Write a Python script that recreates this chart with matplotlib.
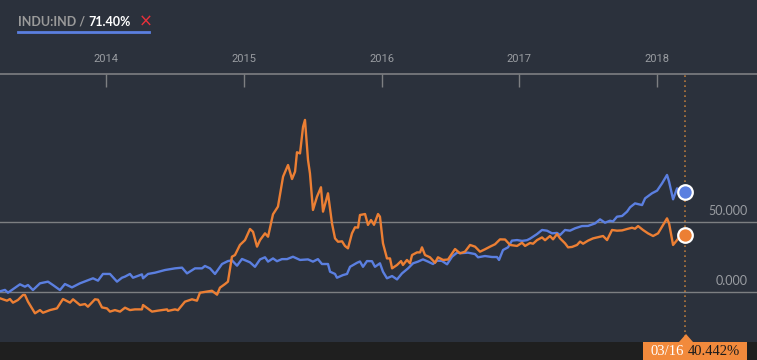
import matplotlib
matplotlib.use("Agg")
import matplotlib.pyplot as plt
from matplotlib.patches import Rectangle, Polygon
import numpy as np

# ---------------- data (decimal years, percent change) ----------------
blue_t = [2013.231, 2013.267, 2013.289, 2013.376, 2013.412, 2013.434, 2013.470, 2013.521,
          2013.579, 2013.615, 2013.666, 2013.702, 2013.753, 2013.811, 2013.862, 2013.906,
          2013.942, 2013.978, 2014.029, 2014.080, 2014.116, 2014.138, 2014.174, 2014.196,
          2014.261, 2014.269, 2014.305, 2014.356, 2014.428, 2014.501, 2014.552, 2014.588,
          2014.646, 2014.697, 2014.718, 2014.755, 2014.791, 2014.842, 2014.885, 2014.914,
          2014.951, 2014.987, 2015.045, 2015.081, 2015.118, 2015.154, 2015.176, 2015.212,
          2015.241, 2015.277, 2015.314, 2015.357, 2015.408, 2015.466, 2015.502, 2015.538,
          2015.567, 2015.611, 2015.626, 2015.662, 2015.676, 2015.720, 2015.749, 2015.771,
          2015.822, 2015.843, 2015.865, 2015.894, 2015.930, 2015.952, 2015.988, 2016.010,
          2016.039, 2016.076, 2016.112, 2016.148, 2016.192, 2016.228, 2016.264, 2016.300,
          2016.337, 2016.373, 2016.402, 2016.438, 2016.475, 2016.511, 2016.547, 2016.583,
          2016.627, 2016.678, 2016.700, 2016.750, 2016.801, 2016.837, 2016.852, 2016.881,
          2016.917, 2016.946, 2016.983, 2017.019, 2017.055, 2017.077, 2017.128, 2017.164,
          2017.200, 2017.237, 2017.273, 2017.295, 2017.331, 2017.367, 2017.404, 2017.454,
          2017.498, 2017.549, 2017.585, 2017.621, 2017.657, 2017.679, 2017.708, 2017.745,
          2017.781, 2017.803, 2017.839, 2017.890, 2017.912, 2017.962, 2017.999, 2018.035,
          2018.071, 2018.086, 2018.115, 2018.144, 2018.158, 2018.204]
blue_v = [0.5, 1.5, -0.5, 5.5, 3.8, 5.0, 1.4, 6.2,
          7.4, 5.0, 1.4, 5.7, 3.3, 6.2, 8.1, 9.8,
          8.1, 12.9, 12.9, 7.4, 10.2, 11.0, 12.9, 10.2,
          12.6, 9.8, 12.9, 13.8, 15.7, 16.9, 17.4, 13.3,
          16.9, 16.9, 18.6, 16.9, 12.9, 20.0, 22.1, 22.6,
          18.8, 23.6, 21.2, 18.0, 23.3, 24.8, 21.7, 24.0,
          22.0, 23.5, 23.5, 25.2, 22.9, 23.3, 21.7, 23.5,
          20.0, 20.0, 14.5, 12.9, 10.2, 12.1, 12.9, 18.0,
          20.9, 21.8, 18.0, 22.1, 22.0, 18.0, 20.5, 14.5,
          9.8, 11.4, 9.0, 13.3, 16.9, 20.5, 21.7, 23.3,
          21.7, 20.0, 22.4, 22.2, 19.8, 25.2, 28.1, 27.8,
          28.1, 27.1, 24.8, 25.7, 25.0, 25.0, 22.9, 30.0,
          31.9, 36.7, 37.1, 36.5, 37.0, 38.1, 41.4, 44.3,
          43.8, 41.9, 42.2, 40.7, 44.3, 43.8, 45.5, 47.1,
          47.2, 49.0, 51.9, 49.5, 50.9, 50.4, 53.8, 54.3,
          57.4, 60.5, 63.3, 62.1, 66.9, 70.5, 72.4, 77.6,
          83.6, 78.8, 66.2, 74.0, 72.9, 71.40]

orange_t = [2013.231, 2013.282, 2013.303, 2013.325, 2013.361, 2013.398, 2013.412, 2013.434,
            2013.485, 2013.521, 2013.543, 2013.594, 2013.644, 2013.688, 2013.739, 2013.761,
            2013.811, 2013.848, 2013.869, 2013.920, 2013.942, 2013.971, 2014.007, 2014.029,
            2014.065, 2014.102, 2014.138, 2014.174, 2014.210, 2014.261, 2014.269, 2014.334,
            2014.377, 2014.443, 2014.450, 2014.501, 2014.522, 2014.573, 2014.624, 2014.660,
            2014.682, 2014.769, 2014.806, 2014.827, 2014.864, 2014.885, 2014.914, 2014.936,
            2014.972, 2015.009, 2015.045, 2015.067, 2015.096, 2015.118, 2015.154, 2015.176,
            2015.212, 2015.248, 2015.285, 2015.321, 2015.350, 2015.372, 2015.386, 2015.408,
            2015.430, 2015.444, 2015.466, 2015.480, 2015.502, 2015.531, 2015.560, 2015.575,
            2015.611, 2015.640, 2015.662, 2015.684, 2015.713, 2015.734, 2015.756, 2015.785,
            2015.807, 2015.829, 2015.843, 2015.880, 2015.901, 2015.923, 2015.945, 2015.974,
            2015.988, 2016.010, 2016.039, 2016.061, 2016.076, 2016.112, 2016.141, 2016.155,
            2016.184, 2016.206, 2016.221, 2016.257, 2016.279, 2016.293, 2016.315, 2016.351,
            2016.388, 2016.409, 2016.446, 2016.482, 2016.533, 2016.569, 2016.605, 2016.642,
            2016.678, 2016.714, 2016.750, 2016.787, 2016.823, 2016.859, 2016.896, 2016.932,
            2016.983, 2017.019, 2017.041, 2017.077, 2017.099, 2017.128, 2017.164, 2017.186,
            2017.222, 2017.244, 2017.273, 2017.295, 2017.331, 2017.353, 2017.382, 2017.418,
            2017.440, 2017.462, 2017.498, 2017.534, 2017.585, 2017.607, 2017.636, 2017.672,
            2017.708, 2017.745, 2017.781, 2017.817, 2017.839, 2017.861, 2017.897, 2017.933,
            2017.970, 2018.006, 2018.035, 2018.071, 2018.086, 2018.115, 2018.144, 2018.166,
            2018.204]
orange_v = [-4.5, -6.2, -5.0, -7.6, -5.7, -2.1, -2.1, -6.9,
            -15.2, -12.9, -14.8, -12.9, -11.7, -5.0, -7.6, -5.2,
            -9.3, -8.6, -10.5, -5.2, -5.5, -11.0, -11.7, -14.0,
            -12.9, -14.0, -11.2, -12.9, -12.4, -12.4, -9.3, -14.0,
            -13.3, -12.4, -13.5, -12.4, -13.0, -6.9, -5.2, -6.2,
            -0.5, 0.9, -1.9, 3.1, 5.7, 7.4, 25.2, 26.4,
            33.6, 37.1, 45.0, 43.0, 32.4, 37.1, 41.9, 39.5,
            55.5, 61.0, 82.4, 90.7, 80.7, 86.0, 99.8, 99.0,
            118.0, 122.9, 94.3, 84.8, 58.6, 68.0, 74.8, 57.4,
            70.5, 49.0, 38.3, 35.9, 36.2, 32.9, 31.2, 41.9,
            46.2, 46.0, 55.0, 55.7, 47.9, 51.4, 48.0, 55.7,
            53.8, 34.8, 24.0, 24.0, 16.9, 19.3, 22.1, 19.3,
            22.9, 20.5, 26.4, 28.3, 28.3, 31.9, 26.4, 24.8,
            20.9, 24.8, 22.9, 23.2, 30.7, 27.6, 28.8, 33.6,
            32.4, 28.8, 30.5, 32.4, 34.1, 37.6, 37.5, 33.6,
            32.9, 35.2, 32.9, 35.0, 34.5, 37.1, 39.0, 37.0,
            40.0, 37.6, 41.4, 38.3, 34.8, 31.9, 32.2, 33.6,
            36.0, 34.5, 36.7, 38.3, 39.5, 40.0, 37.1, 44.3,
            43.8, 44.0, 45.0, 45.9, 45.2, 47.1, 44.3, 41.9,
            40.0, 41.9, 46.7, 52.6, 49.0, 33.6, 37.1, 40.0,
            40.442]

year_ticks = [2014, 2015, 2016, 2017, 2018]
year_labels = ["2014", "2015", "2016", "2017", "2018"]
grid_levels = [0, 50]
grid_labels = ["0.000", "50.000"]
legend_name = "INDU:IND / "
legend_value = "71.40%"
cursor_date = "03/16"
cursor_value = "40.442%"

# ---------------- style ----------------
BG = "#2b313c"
STRIP = "#1f1f1f"
BLUE = "#5b7fe0"
ORANGE = "#ec7f34"
GRID = "#7d7f82"
TXT = "#9a9da2"

W, H = 757, 360
fig = plt.figure(figsize=(W / 100, H / 100), dpi=100)
fig.patch.set_facecolor(BG)

# bottom dark strip
fig.patches.append(Rectangle((0, 0), 1, 18 / H, transform=fig.transFigure,
                             facecolor=STRIP, edgecolor="none", zorder=0))

ax = fig.add_axes([0, 18 / H, 1, (342 - 74) / H])
ax.set_facecolor(BG)
ax.set_xlim(2013.231, 2018.724)
ax.set_ylim(-35.7, 155.7)

for s in ["left", "right", "bottom"]:
    ax.spines[s].set_visible(False)
ax.spines["top"].set_color(GRID)
ax.spines["top"].set_linewidth(1.2)

ax.xaxis.tick_top()
ax.set_xticks(year_ticks)
ax.set_xticklabels(year_labels, fontfamily="Roboto", fontsize=8, color=TXT)
ax.tick_params(axis="x", direction="in", length=9, width=1, color=GRID, pad=7)
ax.set_yticks([])

for lvl, lab in zip(grid_levels, grid_labels):
    ax.axhline(lvl, color=GRID, lw=1, zorder=1)
    ax.text(0.988, lvl + 3.5, lab, transform=ax.get_yaxis_transform(),
            ha="right", va="bottom", fontsize=9, color=TXT, fontfamily="Lato")

ax.plot(blue_t, blue_v, color=BLUE, lw=1.7, zorder=3, solid_joinstyle="round")
ax.plot(orange_t, orange_v, color=ORANGE, lw=1.7, zorder=3, solid_joinstyle="round")

# cursor line
cx = blue_t[-1]
ax.axvline(cx, color="#b5793c", lw=1.2, linestyle=(0, (1, 2)), zorder=2)
ax.scatter([cx], [blue_v[-1]], s=110, color=BLUE, edgecolor="white", linewidth=1.6, zorder=5, clip_on=False)
ax.scatter([cx], [orange_v[-1]], s=110, color=ORANGE, edgecolor="white", linewidth=1.6, zorder=5, clip_on=False)

# cursor label box in bottom strip
fig.patches.append(Rectangle((643 / W, 0), (747 - 643) / W, 18 / H, transform=fig.transFigure,
                             facecolor="#f28a3c", edgecolor="none", zorder=3))
fig.patches.append(Polygon([((686 - 7) / W, 18 / H), ((686 + 7) / W, 18 / H), (686 / W, 26 / H)],
                           closed=True, transform=fig.transFigure,
                           facecolor="#f28a3c", edgecolor="none", zorder=3))
fig.text(667 / W, 8.5 / H, cursor_date, ha="center", va="center", fontsize=10.5,
         color="white", fontfamily="Liberation Serif", zorder=4)
fig.text(714 / W, 8.5 / H, cursor_value, ha="center", va="center", fontsize=10.5,
         color="#1c1c1c", fontfamily="Liberation Serif", zorder=4)

# legend
t1 = fig.text(18 / W, 1 - 22 / H, legend_name, ha="left", va="center", fontsize=9,
              fontweight="bold", color="#9a9a9a", fontfamily="Lato")
fig.canvas.draw()
r = fig.canvas.get_renderer()
bb = t1.get_window_extent(r)
t2 = fig.text(bb.x1 / W, 1 - 22 / H, legend_value, ha="left", va="center", fontsize=9,
              fontweight="bold", color="white", fontfamily="Lato")
bb2 = t2.get_window_extent(r)
fig.text((bb2.x1 + 8) / W, 1 - 22 / H, "\u00d7", ha="left", va="center", fontsize=12,
         color="#e8303a", fontfamily="DejaVu Sans")
fig.lines.append(plt.Line2D([18 / W, 149 / W], [1 - 32 / H, 1 - 32 / H], transform=fig.transFigure,
                            color=BLUE, lw=2))

fig.savefig("out.png", dpi=100, facecolor=fig.get_facecolor())
